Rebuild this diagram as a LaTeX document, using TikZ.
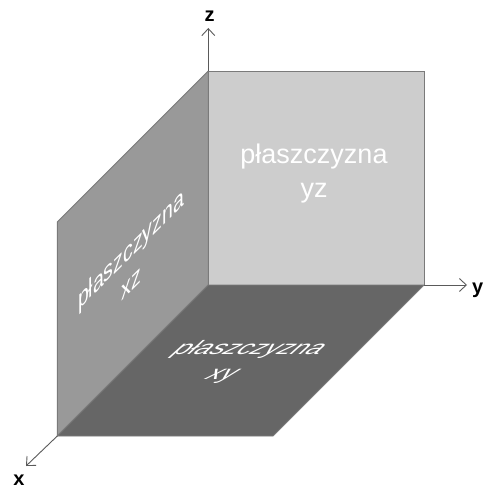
\documentclass[tikz,border=0pt]{standalone}
\usepackage{fontspec}
\setmainfont{Liberation Sans}
\usetikzlibrary{arrows.meta}
\definecolor{faceyz}{HTML}{CDCDCD}
\definecolor{facexz}{HTML}{999999}
\definecolor{facexy}{HTML}{666666}
\definecolor{edgegray}{HTML}{7A7A7A}
\definecolor{axisgray}{HTML}{5A5A5A}
\tikzset{
  face/.style={draw=edgegray, line width=0.9pt, line join=miter},
  axis/.style={draw=axisgray, line width=0.9pt, -{Straight Barb[length=7pt, width=13pt, line width=0.9pt]}},
  axislabel/.style={font=\fontsize{20}{20}\selectfont\bfseries, inner sep=0pt, text=black},
  planelabel/.style={font=\fontsize{27}{34}\selectfont, text=white, align=center, inner sep=0pt, transform shape}
}
\begin{document}
\begin{tikzpicture}[x=1pt, y=-1pt]
\useasboundingbox (0,0) rectangle (484,489);
% corners of the three coordinate planes
\coordinate (O) at (208.3,285);
\coordinate (Z) at (208.3,71);
\coordinate (Y) at (424,285);
\coordinate (YZ) at (424,71);
\coordinate (X) at (57.3,436);
\coordinate (XZ) at (57.3,222);
\coordinate (XY) at (273,436);
% planes
\fill[faceyz] (O) -- (Z) -- (YZ) -- (Y) -- cycle;
\draw[face] (O) -- (Z) -- (YZ) -- (Y) -- cycle;
\fill[facexz] (O) -- (Z) -- (XZ) -- (X) -- cycle;
\draw[face] (O) -- (Z) -- (XZ) -- (X) -- cycle;
\fill[facexy] (O) -- (Y) -- (XY) -- (X) -- cycle;
\draw[face] (O) -- (Y) -- (XY) -- (X) -- cycle;
% axes
\coordinate (zend) at (208.3,28);
\coordinate (yend) at (467,285);
\coordinate (xend) at (26,466);
\draw[axis] (Z) -- (zend);
\draw[axis] (Y) -- (yend);
\draw[axis] (X) -- (xend);
\node[axislabel] (zlab) at (209.5,16.5) {z};
\node[axislabel, anchor=east] (ylab) at (483.5,290) {y};
\node[axislabel] (xlab) at (19,480) {x};
% plane labels
\node[planelabel] (lyz) at (314,174) {płaszczyzna\\yz};
\begin{scope}[shift={(131,265)}, cm={0.72,0.72,0,1,(0,0)}]
  \node[planelabel] (lxz) at (0,0) {płaszczyzna\\xz};
\end{scope}
\begin{scope}[shift={(236,362)}, cm={1,0,0.8,0.72,(0,0)}]
  \node[planelabel] (lxy) at (0,0) {płaszczyzna\\xy};
\end{scope}
\end{tikzpicture}
\end{document}
